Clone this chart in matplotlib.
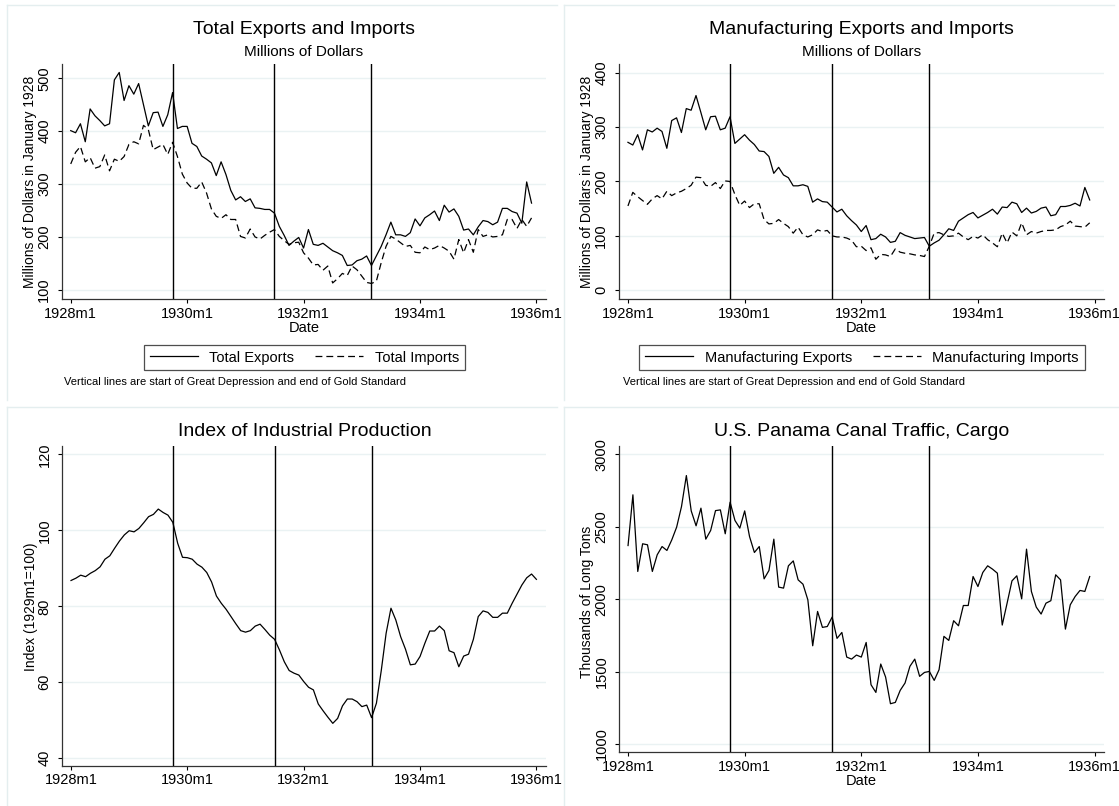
import numpy as np
import matplotlib
matplotlib.use("Agg")
import matplotlib.pyplot as plt
from matplotlib.lines import Line2D

plt.rcParams["font.family"] = ["Liberation Sans", "DejaVu Sans"]

# monthly series, 1928m1 .. 1935m12 (industrial production runs to 1936m1)
total_exports = [401, 397, 414, 380, 442, 429, 420, 410, 414, 497, 511, 458,
                 486, 470, 490, 450, 410, 435, 436, 409, 431, 473, 405, 409,
                 409, 377, 371, 353, 347, 340, 316, 342, 318, 288, 270, 276,
                 267, 272, 255, 254, 252, 252, 245, 220, 203, 184, 192, 199,
                 179, 214, 186, 184, 188, 181, 174, 170, 165, 146, 147, 155,
                 158, 164, 146, 164, 182, 204, 228, 204, 204, 201, 208, 234,
                 221, 236, 242, 249, 231, 260, 247, 253, 239, 213, 215, 204,
                 219, 231, 229, 223, 228, 254, 254, 248, 245, 226, 304, 264]
total_imports = [338, 360, 371, 342, 350, 330, 333, 355, 325, 347, 343, 352,
                 375, 380, 376, 411, 403, 365, 370, 375, 356, 379, 352, 319,
                 302, 292, 292, 304, 283, 253, 239, 235, 242, 233, 233, 201,
                 198, 215, 200, 196, 203, 209, 214, 201, 193, 186, 189, 190,
                 170, 160, 147, 148, 137, 145, 113, 121, 131, 127, 145, 138,
                 126, 114, 112, 116, 151, 182, 201, 196, 189, 182, 184, 171,
                 170, 181, 176, 179, 184, 179, 173, 158, 195, 170, 195, 171,
                 214, 201, 204, 200, 201, 204, 233, 233, 216, 233, 220, 236]
mfg_exports = [272, 267, 286, 258, 295, 291, 298, 292, 261, 312, 317, 290,
               334, 331, 358, 327, 295, 319, 320, 295, 298, 319, 270, 278,
               286, 276, 268, 256, 255, 246, 215, 226, 212, 207, 192, 192,
               194, 191, 162, 168, 163, 162, 153, 144, 149, 137, 128, 120,
               108, 119, 93, 95, 103, 98, 88, 90, 106, 101, 98, 95,
               96, 97, 81, 87, 92, 102, 113, 110, 127, 133, 139, 143,
               133, 138, 143, 149, 140, 153, 152, 162, 159, 143, 151, 142,
               145, 151, 153, 137, 139, 154, 154, 156, 160, 155, 189, 166]
mfg_imports = [155, 180, 172, 165, 158, 168, 174, 168, 182, 174, 179, 182,
               187, 193, 208, 207, 193, 191, 198, 187, 201, 200, 176, 156,
               164, 152, 159, 159, 130, 122, 123, 130, 123, 117, 105, 116,
               102, 98, 102, 111, 108, 110, 100, 98, 98, 96, 92, 80,
               81, 73, 78, 57, 66, 65, 62, 76, 70, 68, 67, 65,
               64, 62, 81, 105, 106, 102, 99, 100, 105, 98, 93, 99,
               96, 102, 93, 87, 80, 105, 87, 107, 100, 124, 102, 108,
               105, 108, 110, 110, 111, 117, 120, 127, 118, 117, 116, 124]
ind_production = [86.8, 87.4, 88.2, 87.8, 88.7, 89.4, 90.4, 92.4, 93.3, 95.3, 97.2, 98.8,
                  99.9, 99.6, 100.5, 102.0, 103.6, 104.2, 105.6, 104.7, 104.0, 102.1, 96.6, 92.9,
                  92.8, 92.4, 91.1, 90.3, 88.9, 86.4, 82.7, 80.8, 79.2, 77.3, 75.4, 73.6,
                  73.2, 73.6, 74.8, 75.3, 73.9, 72.4, 71.3, 68.5, 65.4, 63.1, 62.4, 61.9,
                  60.2, 58.7, 58.0, 54.3, 52.5, 50.8, 49.2, 50.5, 53.8, 55.6, 55.6, 54.9,
                  53.6, 54.0, 50.7, 54.5, 63.1, 72.9, 79.5, 76.4, 72.0, 68.7, 64.6, 64.8,
                  66.8, 70.3, 73.5, 73.5, 74.8, 73.6, 68.3, 67.8, 64.1, 66.9, 67.4, 71.3,
                  77.3, 78.8, 78.4, 77.1, 77.1, 78.2, 78.2, 80.8, 83.2, 85.6, 87.5, 88.5,
                  87.1]
canal_cargo = [2370, 2720, 2191, 2382, 2375, 2191, 2306, 2363, 2336, 2409, 2497, 2639,
               2853, 2609, 2506, 2628, 2414, 2474, 2611, 2616, 2451, 2669, 2543, 2490,
               2609, 2432, 2322, 2363, 2140, 2198, 2414, 2083, 2076, 2230, 2264, 2133,
               2103, 1995, 1678, 1915, 1805, 1811, 1876, 1729, 1770, 1600, 1586, 1614,
               1600, 1701, 1409, 1356, 1552, 1462, 1278, 1287, 1370, 1421, 1536, 1586,
               1467, 1494, 1501, 1439, 1513, 1743, 1715, 1851, 1816, 1956, 1956, 2156,
               2087, 2184, 2230, 2207, 2179, 1821, 1972, 2126, 2161, 2002, 2345, 2053,
               1945, 1897, 1972, 1989, 2168, 2133, 1793, 1961, 2018, 2060, 2053, 2156]

# months since 1928m1: start of Depression, UK off gold, US off gold
event_months = [21, 42, 62]
tick_months = [0, 24, 48, 72, 96]
tick_labels = ["1928m1", "1930m1", "1932m1", "1934m1", "1936m1"]
note = "Vertical lines are start of Great Depression and end of Gold Standard"

W, H = 1119, 806
fig = plt.figure(figsize=(W / 100, H / 100), dpi=100)
GRID = "#eaf2f3"
FS = 10.5


def px_axes(left, top, right, bottom):
    return fig.add_axes([left / W, 1 - bottom / H, (right - left) / W, (bottom - top) / H])


def ftext(x, y, s, **kw):
    fig.text(x / W, 1 - y / H, s, ha="center", va="center", **kw)


def fline(x0, y0, x1, y1):
    fig.add_artist(Line2D([x0 / W, x1 / W], [1 - y0 / H, 1 - y1 / H],
                          transform=fig.transFigure, color="#e4eeef", lw=1))


def style(ax, ylim, yticks):
    ax.set_xlim(-1.8, 97.9)
    ax.set_ylim(*ylim)
    ax.set_xticks(tick_months)
    ax.set_xticklabels(tick_labels)
    ax.set_yticks(yticks)
    ax.tick_params(axis="y", labelrotation=90, length=2.8, width=0.8, labelsize=FS, pad=5)
    ax.tick_params(axis="x", length=2.8, width=0.8, labelsize=FS, pad=2.5)
    for lab in ax.get_yticklabels():
        lab.set_va("center")
    for s in ["top", "right"]:
        ax.spines[s].set_visible(False)
    for s in ["left", "bottom"]:
        ax.spines[s].set_linewidth(0.9)
        ax.spines[s].set_color("#333333")
    for y in yticks:
        ax.axhline(y, color=GRID, lw=1, zorder=0)
    for m in event_months:
        ax.axvline(m, color="black", lw=1, zorder=3)


# faint panel outlines
for (x0, y0, x1, y1) in [(7, 5, 557, 400), (564, 5, 1114, 400),
                         (7, 407, 557, 806), (564, 407, 1119, 806)]:
    fline(x0, y0, x1, y0)
    fline(x0, y0, x0, y1)

dash = (0, (5.5, 3.2))
leg_kw = dict(loc="center", bbox_transform=fig.transFigure, ncol=2, fontsize=FS,
              frameon=True, fancybox=False, edgecolor="#222222", handlelength=3.3,
              columnspacing=1.4, borderpad=0.4, handletextpad=0.8)

# top left: total trade
ax1 = px_axes(62, 64, 545.6, 299.5)
m = np.arange(len(total_exports))
ax1.plot(m, total_exports, color="black", lw=0.9, label="Total Exports")
ax1.plot(m, total_imports, color="black", lw=0.9, ls=dash, label="Total Imports")
style(ax1, (81.7, 527), [100, 200, 300, 400, 500])
ftext(304, 29, "Total Exports and Imports", fontsize=14)
ftext(304, 52, "Millions of Dollars", fontsize=11)
ftext(304, 328, "Date", fontsize=FS)
ftext(30.5, 182, "Millions of Dollars in January 1928", fontsize=10, rotation=90)
ax1.legend(bbox_to_anchor=(304.2 / W, 1 - 357.5 / H), **leg_kw).get_frame().set_linewidth(0.9)
fig.text(64 / W, 1 - 382 / H, note, fontsize=8, va="center")

# top right: manufacturing trade
ax2 = px_axes(619.2, 64, 1103.8, 299.5)
m = np.arange(len(mfg_exports))
ax2.plot(m, mfg_exports, color="black", lw=0.9, label="Manufacturing Exports")
ax2.plot(m, mfg_imports, color="black", lw=0.9, ls=dash, label="Manufacturing Imports")
style(ax2, (-17, 416), [0, 100, 200, 300, 400])
ftext(861.5, 29, "Manufacturing Exports and Imports", fontsize=14)
ftext(861.5, 52, "Millions of Dollars", fontsize=11)
ftext(861.5, 328, "Date", fontsize=FS)
ftext(587, 182, "Millions of Dollars in January 1928", fontsize=10, rotation=90)
ax2.legend(bbox_to_anchor=(862 / W, 1 - 357.5 / H), **leg_kw).get_frame().set_linewidth(0.9)
fig.text(623 / W, 1 - 382 / H, note, fontsize=8, va="center")

# bottom left: industrial production
ax3 = px_axes(62.3, 446, 545.6, 766)
ax3.plot(np.arange(len(ind_production)), ind_production, color="black", lw=0.9)
style(ax3, (37.97, 122.2), [40, 60, 80, 100, 120])
ftext(304.6, 432, "Index of Industrial Production", fontsize=14)
ftext(30.5, 606.7, "Index (1929m1=100)", fontsize=10, rotation=90)

# bottom right: canal traffic
ax4 = px_axes(619.3, 446, 1103.8, 752.3)
ax4.plot(np.arange(len(canal_cargo)), canal_cargo, color="black", lw=0.9)
style(ax4, (942.7, 3057), [1000, 1500, 2000, 2500, 3000])
ftext(861.5, 432, "U.S. Panama Canal Traffic, Cargo", fontsize=14)
ftext(861.5, 781, "Date", fontsize=FS)
ftext(587, 601.7, "Thousands of Long Tons", fontsize=10, rotation=90)

fig.savefig("out.png", dpi=100, facecolor="white")
